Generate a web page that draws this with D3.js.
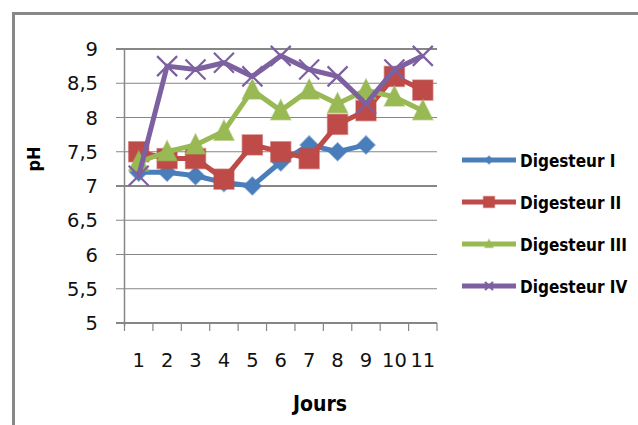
<!DOCTYPE html>
<html>
<head>
<meta charset="utf-8">
<script src="https://cdn.jsdelivr.net/npm/d3@7"></script>
<style>
  body { margin: 0; background: #fff; }
  svg { display: block; }
</style>
</head>
<body>
<svg id="chart"></svg>
<script>
// data
const days = ["1", "2", "3", "4", "5", "6", "7", "8", "9", "10", "11"];
const yTicks = [5, 5.5, 6, 6.5, 7, 7.5, 8, 8.5, 9];
const digesteurI   = [7.2, 7.2, 7.15, 7.05, 7.0, 7.35, 7.6, 7.5, 7.6, null, null];
const digesteurII  = [7.5, 7.4, 7.4, 7.1, 7.6, 7.5, 7.4, 7.9, 8.1, 8.6, 8.4];
const digesteurIII = [7.35, 7.5, 7.6, 7.8, 8.4, 8.1, 8.4, 8.2, 8.4, 8.3, 8.1];
const digesteurIV  = [7.15, 8.75, 8.7, 8.8, 8.6, 8.9, 8.7, 8.6, 8.2, 8.7, 8.9];
const seriesNames = ["Digesteur I", "Digesteur II", "Digesteur III", "Digesteur IV"];

const series = [
  { name: seriesNames[0], values: digesteurI,   color: "#4a7ebb", marker: "diamond" },
  { name: seriesNames[1], values: digesteurII,  color: "#be4b48", marker: "square" },
  { name: seriesNames[2], values: digesteurIII, color: "#98b954", marker: "triangle" },
  { name: seriesNames[3], values: digesteurIV,  color: "#7d60a0", marker: "cross" }
];

const svg = d3.select("#chart")
  .attr("width", 638)
  .attr("height", 425);

// frame (only top and left edges show)
svg.append("path")
  .attr("d", "M13.5,425 V13.5 H638")
  .attr("fill", "none")
  .attr("stroke", "#888")
  .attr("stroke-width", 3);

// scales
const x = d3.scaleBand()
  .domain(days)
  .range([124.5, 437]);

const y = d3.scaleLinear()
  .domain([5, 9])
  .range([323, 49]);

const gridColor = "#868686";
const tickFont = "'DejaVu Sans', sans-serif";

// gridlines + y ticks
svg.append("g")
  .selectAll("line")
  .data(yTicks).enter().append("line")
  .attr("x1", 116)
  .attr("x2", 437)
  .attr("y1", d => y(d))
  .attr("y2", d => y(d))
  .attr("stroke", gridColor)
  .attr("stroke-width", d => (d === 9 || d === 7 || d === 5) ? 2 : 1.2);

// y axis line
svg.append("line")
  .attr("x1", x.range()[0]).attr("x2", x.range()[0])
  .attr("y1", y(9)).attr("y2", y(5) + 3)
  .attr("stroke", gridColor)
  .attr("stroke-width", 1.5);

// y tick labels
svg.append("g")
  .selectAll("text")
  .data(yTicks).enter().append("text")
  .attr("x", 98)
  .attr("y", d => y(d) + 7)
  .attr("text-anchor", "end")
  .attr("font-family", tickFont)
  .attr("font-size", "19.5px")
  .attr("fill", "#111")
  .text(d => String(d).replace(".", ","));

// x axis ticks at band edges
const xEdges = days.map(d => x(d)).concat([x.range()[1]]);
svg.append("g")
  .selectAll("line")
  .data(xEdges).enter().append("line")
  .attr("x1", d => d).attr("x2", d => d)
  .attr("y1", y(5)).attr("y2", y(5) + 8)
  .attr("stroke", gridColor)
  .attr("stroke-width", 1.2);

// x tick labels
svg.append("g")
  .selectAll("text")
  .data(days).enter().append("text")
  .attr("x", d => x(d) + x.bandwidth() / 2)
  .attr("y", 367)
  .attr("text-anchor", "middle")
  .attr("font-family", tickFont)
  .attr("font-size", "19.5px")
  .attr("fill", "#111")
  .text(d => d);

// axis titles
svg.append("text")
  .attr("x", 320)
  .attr("y", 411)
  .attr("text-anchor", "middle")
  .attr("font-family", "'DejaVu Sans Condensed', 'DejaVu Sans', sans-serif")
  .attr("font-weight", "bold")
  .attr("font-size", "21px")
  .text("Jours");

svg.append("text")
  .attr("transform", "translate(40,159) rotate(-90)")
  .attr("text-anchor", "middle")
  .attr("font-family", "'DejaVu Sans Condensed', 'DejaVu Sans', sans-serif")
  .attr("font-weight", "bold")
  .attr("font-size", "18px")
  .text("pH");

// marker drawing
function drawMarker(g, type, color, size) {
  const h = size / 2;
  if (type === "diamond") {
    g.append("path")
      .attr("d", `M0,${-h} L${h},0 L0,${h} L${-h},0 Z`)
      .attr("fill", color)
      .attr("stroke", color).attr("stroke-opacity", 0.5).attr("stroke-width", 1.5);
  } else if (type === "square") {
    g.append("rect")
      .attr("x", -h).attr("y", -h)
      .attr("width", size).attr("height", size)
      .attr("fill", color)
      .attr("stroke", color).attr("stroke-opacity", 0.5).attr("stroke-width", 1.5);
  } else if (type === "triangle") {
    g.append("path")
      .attr("d", `M0,${-h * 1.1} L${h},${h * 0.9} L${-h},${h * 0.9} Z`)
      .attr("fill", color)
      .attr("stroke", color).attr("stroke-opacity", 0.5).attr("stroke-width", 1.5);
  } else {
    g.append("path")
      .attr("d", `M${-h},${-h} L${h},${h} M${-h},${h} L${h},${-h}`)
      .attr("fill", "none")
      .attr("stroke", color)
      .attr("stroke-width", 2.2);
  }
}

const line = d3.line()
  .defined(d => d.v != null)
  .x(d => x(d.day) + x.bandwidth() / 2)
  .y(d => y(d.v));

const markerSize = { diamond: 18, square: 20, triangle: 20, cross: 20 };

// series
series.forEach(s => {
  const pts = days.map((day, i) => ({ day, v: s.values[i] }));
  const g = svg.append("g");
  g.append("path")
    .attr("d", line(pts))
    .attr("fill", "none")
    .attr("stroke", s.color)
    .attr("stroke-width", 5)
    .attr("stroke-linejoin", "round");
  pts.filter(p => p.v != null).forEach(p => {
    const m = g.append("g")
      .attr("transform", `translate(${x(p.day) + x.bandwidth() / 2},${y(p.v)})`);
    drawMarker(m, s.marker, s.color, markerSize[s.marker]);
  });
});

// legend
const legendY = [160, 202, 244, 286];
const legend = svg.append("g");
series.forEach((s, i) => {
  const row = legend.append("g").attr("transform", `translate(0,${legendY[i]})`);
  row.append("line")
    .attr("x1", 462).attr("x2", 516)
    .attr("y1", 0).attr("y2", 0)
    .attr("stroke", s.color)
    .attr("stroke-width", 5);
  const m = row.append("g").attr("transform", "translate(489,0)");
  drawMarker(m, s.marker, s.color, s.marker === "square" ? 11 : 8);
  row.append("text")
    .attr("x", 520)
    .attr("y", 6.5)
    .attr("font-family", "'DejaVu Sans Condensed', 'DejaVu Sans', sans-serif")
    .attr("font-weight", "bold")
    .attr("font-size", "17px")
    .text(s.name);
});
</script>
</body>
</html>
